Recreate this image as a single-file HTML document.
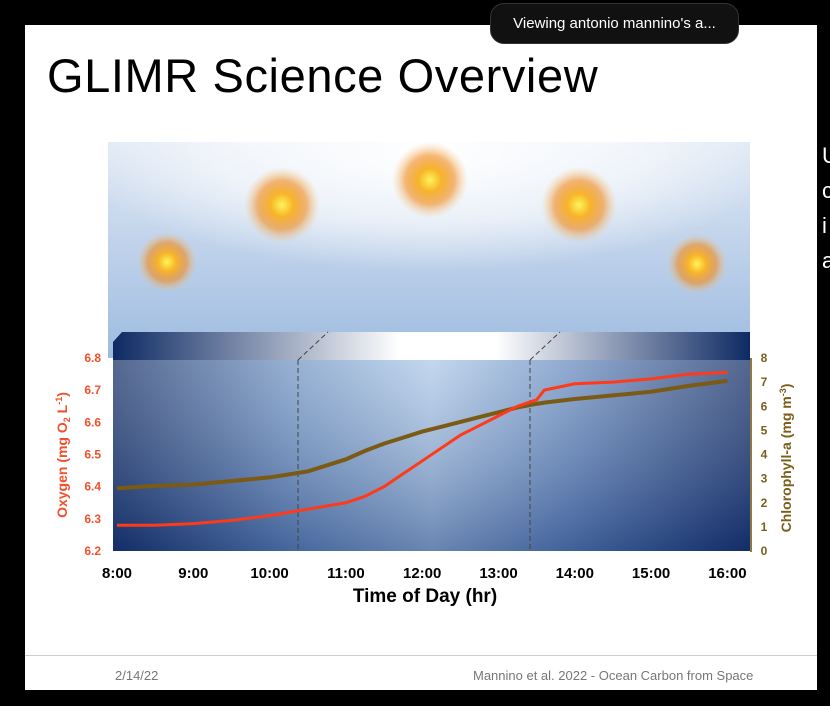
<!DOCTYPE html>
<html><head><meta charset="utf-8"><style>
body{margin:0;width:830px;height:706px;background:#000;position:relative;overflow:hidden;font-family:"Liberation Sans",sans-serif}
#slide{position:absolute;left:25px;top:25px;width:792px;height:665px;background:#fff}
</style></head><body>
<div id="slide"></div>
<div style="position:absolute;left:47px;top:48px;font-size:47px;letter-spacing:0.6px;color:#000">GLIMR Science Overview</div>
<div style="position:absolute;left:490px;top:3px;width:247px;height:39px;border-radius:14px;background:#111;color:#fff;font-size:15px;line-height:39px;text-align:center;border:1px solid #333">Viewing antonio mannino's a...</div>
<div style="position:absolute;left:822px;top:138px;color:#fff;font-size:22px;line-height:35px">U<br>c<br>i<br>a</div>
<div style="position:absolute;left:25px;top:655px;width:792px;height:1px;background:#ccc"></div>
<div style="position:absolute;left:115px;top:668px;font-size:13px;color:#777">2/14/22</div>
<div style="position:absolute;left:473px;top:668px;font-size:13px;color:#777">Mannino et al. 2022 - Ocean Carbon from Space</div>
<svg id="chart" width="830" height="706" style="position:absolute;left:0;top:0">
<defs>
<linearGradient id="sky" x1="0" y1="0" x2="0" y2="1"><stop offset="0" stop-color="#dfe8f4"/><stop offset="1" stop-color="#9ebbe0"/></linearGradient>
<radialGradient id="skyw" cx="0.5" cy="0.05" r="0.55"><stop offset="0" stop-color="#fff" stop-opacity="1"/><stop offset="0.6" stop-color="#fff" stop-opacity="0.6"/><stop offset="1" stop-color="#fff" stop-opacity="0"/></radialGradient>
<linearGradient id="bar" x1="0" y1="0" x2="1" y2="0"><stop offset="0" stop-color="#0e2a63"/><stop offset="0.45" stop-color="#fff"/><stop offset="0.6" stop-color="#fff"/><stop offset="1" stop-color="#0e2a63"/></linearGradient>
<linearGradient id="sea" x1="0" y1="0" x2="1" y2="0"><stop offset="0" stop-color="#0c2760"/><stop offset="0.28" stop-color="#6a8fc0"/><stop offset="0.5" stop-color="#a9c6e6"/><stop offset="0.72" stop-color="#5f84bb"/><stop offset="1" stop-color="#0a2560"/></linearGradient>
<linearGradient id="seav" x1="0" y1="0" x2="0" y2="1"><stop offset="0" stop-color="#fff" stop-opacity="0.3"/><stop offset="1" stop-color="#1a3570" stop-opacity="0.45"/></linearGradient>
<radialGradient id="sun"><stop offset="0" stop-color="#fff45a"/><stop offset="0.3" stop-color="#f7b52a"/><stop offset="0.65" stop-color="#f08a20" stop-opacity="0.6"/><stop offset="1" stop-color="#f6c070" stop-opacity="0"/></radialGradient>
</defs>
<rect x="108" y="142" width="642" height="216" fill="url(#sky)"/>
<rect x="108" y="142" width="642" height="216" fill="url(#skyw)"/>
<circle cx="167" cy="262" r="30" fill="url(#sun)"/>
<circle cx="282" cy="205" r="38" fill="url(#sun)"/>
<circle cx="430" cy="180" r="38" fill="url(#sun)"/>
<circle cx="579" cy="205" r="38" fill="url(#sun)"/>
<circle cx="697" cy="264" r="30" fill="url(#sun)"/>
<polygon points="122,332 750,332 750,360 113,360 113,342" fill="url(#bar)"/>
<rect x="113" y="360" width="637" height="191" fill="url(#sea)"/>
<rect x="113" y="360" width="637" height="191" fill="url(#seav)"/>
<line x1="298" y1="360" x2="298" y2="551" stroke="#444" stroke-dasharray="5,3"/>
<line x1="298" y1="360" x2="328" y2="332" stroke="#444" stroke-dasharray="5,3"/>
<line x1="530" y1="360" x2="530" y2="551" stroke="#444" stroke-dasharray="5,3"/>
<line x1="530" y1="360" x2="560" y2="332" stroke="#444" stroke-dasharray="5,3"/>
<line x1="751" y1="358" x2="751" y2="552" stroke="#8a7a4a" stroke-width="2"/>
<g id="g"></g>
<text x="425" y="602" font-size="19" font-weight="bold" text-anchor="middle">Time of Day (hr)</text>
<text transform="translate(67,455) rotate(-90)" font-size="14" font-weight="bold" fill="#f2502a" text-anchor="middle">Oxygen (mg O<tspan font-size="9" dy="3">2</tspan><tspan dy="-3"> L</tspan><tspan font-size="9" dy="-5">-1</tspan><tspan dy="5">)</tspan></text>
<text transform="translate(791,458) rotate(-90)" font-size="14" font-weight="bold" fill="#7a5e1a" text-anchor="middle">Chlorophyll-a (mg m<tspan font-size="9" dy="-5">-3</tspan><tspan dy="5">)</tspan></text>
</svg>
<script>
const hours=[8,8.5,9,9.5,10,10.5,11,11.25,11.5,11.75,12,12.25,12.5,12.75,13,13.25,13.5,13.6,14,14.5,15,15.5,16];
const oxygen=[6.28,6.28,6.285,6.295,6.31,6.33,6.35,6.37,6.40,6.44,6.48,6.52,6.56,6.59,6.62,6.65,6.67,6.70,6.72,6.725,6.735,6.75,6.755];
const chl=[2.6,2.7,2.75,2.9,3.05,3.3,3.8,4.15,4.45,4.7,4.95,5.15,5.35,5.55,5.75,5.95,6.1,6.15,6.3,6.45,6.6,6.85,7.05];
const xTicks=[8,9,10,11,12,13,14,15,16];
const xTickLabels=["8:00","9:00","10:00","11:00","12:00","13:00","14:00","15:00","16:00"];
const oTicks=[6.2,6.3,6.4,6.5,6.6,6.7,6.8];
const cTicks=[0,1,2,3,4,5,6,7,8];
const X=h=>117+(h-8)*76.3;
const YO=v=>551-(v-6.2)/0.6*193;
const YC=v=>551-v/8*193;
const NS="http://www.w3.org/2000/svg",g=document.getElementById('g');
function mk(t,a){const e=document.createElementNS(NS,t);for(const k in a)e.setAttribute(k,a[k]);g.appendChild(e);return e;}
const pc=mk('polyline',{points:hours.map((h,i)=>X(h)+','+YC(chl[i])).join(' '),fill:'none',stroke:'#7a5a14','stroke-width':4});


const po=mk('polyline',{points:hours.map((h,i)=>X(h)+','+YO(oxygen[i])).join(' '),fill:'none',stroke:'#ff3a1a','stroke-width':3});


xTicks.forEach((t,i)=>{const e=mk('text',{x:X(t),y:578,'font-size':15,'font-weight':'bold','text-anchor':'middle'});e.textContent=xTickLabels[i];

});
oTicks.forEach(t=>{const e=mk('text',{x:101,y:YO(t)+4,'font-size':12,'font-weight':'bold',fill:'#f2502a','text-anchor':'end'});e.textContent=t.toFixed(1);

});
cTicks.forEach(t=>{const e=mk('text',{x:764,y:YC(t)+4,'font-size':12,'font-weight':'bold',fill:'#7a5e1a','text-anchor':'middle'});e.textContent=t;

});
</script>
</body></html>
